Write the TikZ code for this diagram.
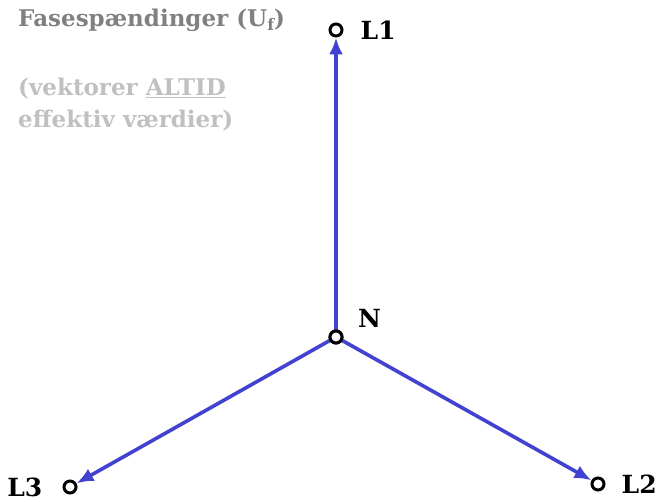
\documentclass[tikz,border=0pt]{standalone}
\usepackage{fontspec}
\setmainfont{DejaVu Serif}
\usetikzlibrary{arrows.meta,positioning}
\definecolor{vecblue}{RGB}{66,66,208}
\definecolor{titlegray}{RGB}{128,128,128}
\definecolor{notegray}{RGB}{192,192,192}

\begin{document}
\begin{tikzpicture}[x=1pt, y=-1pt, node distance=4pt and 10pt,
  term/.style={circle, draw, line width=3pt, fill=white, inner sep=0pt, minimum size=12pt},
  vec/.style={-{Latex[length=17pt,width=14pt]}, line width=3.6pt, draw=vecblue},
  lbl/.style={font=\bfseries\fontsize{25}{28}\selectfont, inner sep=0pt},
  note/.style={font=\bfseries\fontsize{23}{32}\selectfont, align=left, inner sep=0pt, anchor=north west}]
\useasboundingbox (0,0) rectangle (660,502);
% terminals
\node[term] (N) at (336,337) {};
\node[term] (L1) at (336,30) {};
\node[term] (L2) at (598,484) {};
\node[term] (L3) at (70,487) {};
% phase vectors
\draw[vec] (N) -- (L1);
\draw[vec] (N) -- (L2);
\draw[vec] (N) -- (L3);
\node[term] at (N) {};
% labels
\node[lbl, right=17pt of L1] (l1txt) {L1};
\node[lbl, above right=9pt and 22pt of N.center, anchor=south west] (ntxt) {N};
\node[lbl, right=16pt of L2] (l2txt) {L2};
\node[lbl, left=20pt of L3] (l3txt) {L3};
\node[note, text=titlegray] (title) at (18,9) {Fasespændinger (U\raisebox{-0.35ex}{\fontsize{16}{16}\selectfont f})};
\node[note, text=notegray] (remark) at (18,78) {(vektorer \underline{ALTID}\\effektiv værdier)};
\end{tikzpicture}
\end{document}
